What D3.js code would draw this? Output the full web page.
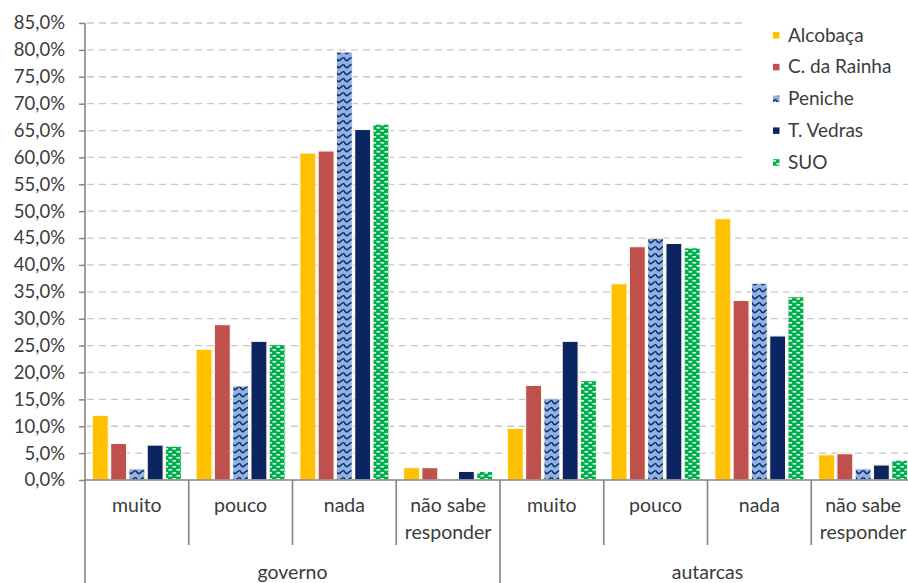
<!DOCTYPE html>
<html>
<head>
<meta charset="utf-8">
<script src="https://cdn.jsdelivr.net/npm/d3@7"></script>
<style>
  html, body { margin: 0; padding: 0; background: #ffffff; }
  svg { display: block; }
  text { font-family: Lato, "Open Sans", sans-serif; fill: #3c3c3c; }
</style>
</head>
<body>
<svg id="chart" width="908" height="583"></svg>
<script>
// Survey answers, in percent, for each municipality and the whole region (SUO)
const groups = ["governo", "autarcas"];
const answers = ["muito", "pouco", "nada", "não sabe responder"];
const seriesNames = ["Alcobaça", "C. da Rainha", "Peniche", "T. Vedras", "SUO"];

// order: governo (muito, pouco, nada, não sabe), autarcas (muito, pouco, nada, não sabe)
const alcobaca = [12.0, 24.3, 60.8, 2.3, 9.6, 36.5, 48.6, 4.7];
const rainha   = [6.8, 28.9, 61.2, 2.3, 17.6, 43.4, 33.4, 4.9];
const peniche  = [2.1, 17.5, 79.6, 0.0, 15.2, 45.0, 36.6, 2.1];
const vedras   = [6.5, 25.8, 65.2, 1.6, 25.8, 44.0, 26.8, 2.8];
const suo      = [6.3, 25.2, 66.2, 1.6, 18.5, 43.2, 34.1, 3.7];

const yTicks = d3.range(0, 86, 5);

const seriesValues = [alcobaca, rainha, peniche, vedras, suo];
const categories = [];
groups.forEach(g => answers.forEach(a => categories.push({ group: g, answer: a, key: g + "|" + a })));

const svg = d3.select("#chart");
const W = 908, H = 583;
const plotLeft = 85, plotRight = 915, plotTop = 23, plotBottom = 480;

const x = d3.scaleBand().domain(categories.map(c => c.key)).range([plotLeft, plotRight]).padding(0);
const xs = d3.scaleBand().domain(seriesNames).range([0, x.bandwidth()]).paddingInner(0.125).paddingOuter(0.4);
const y = d3.scaleLinear().domain([0, 85]).range([plotBottom, plotTop]);

const locale = d3.formatLocale({ decimal: ",", thousands: ".", grouping: [3], currency: ["", "€"] });
const pct = locale.format(".1%");

// fills and patterns
const defs = svg.append("defs");
const wave = defs.append("pattern").attr("id", "pWave").attr("patternUnits", "userSpaceOnUse")
  .attr("width", 8).attr("height", 7);
wave.append("rect").attr("width", 8).attr("height", 7).attr("fill", "#8fb2e2");
wave.append("path").attr("d", "M0,1.5 Q2,6 4,4 Q6,2 8,1.5").attr("fill", "none")
  .attr("stroke", "#0b2a6b").attr("stroke-width", 1.6);

const dots = defs.append("pattern").attr("id", "pDash").attr("patternUnits", "userSpaceOnUse")
  .attr("width", 8).attr("height", 6);
dots.append("rect").attr("width", 8).attr("height", 6).attr("fill", "#00b050");
dots.append("rect").attr("x", 0.5).attr("y", 1).attr("width", 3.5).attr("height", 1.6).attr("fill", "#e2f8ea");
dots.append("rect").attr("x", 4.5).attr("y", 4).attr("width", 3.5).attr("height", 1.6).attr("fill", "#e2f8ea");

const fills = ["#ffc000", "#c0504d", "url(#pWave)", "#0b2462", "url(#pDash)"];

// dashed gridlines
svg.append("g").selectAll("line").data(yTicks.filter(t => t > 0)).join("line")
  .attr("x1", plotLeft + 2).attr("x2", W)
  .attr("y1", d => y(d)).attr("y2", d => y(d))
  .attr("stroke", "#c8c8c8").attr("stroke-width", 1.3).attr("stroke-dasharray", "7,5");

// bars
const barG = svg.append("g");
seriesNames.forEach((s, si) => {
  barG.append("g").selectAll("rect")
    .data(categories.map((c, ci) => ({ key: c.key, v: seriesValues[si][ci] })).filter(d => d.v > 0))
    .join("rect")
    .attr("x", d => x(d.key) + xs(s))
    .attr("width", xs.bandwidth())
    .attr("y", d => y(d.v))
    .attr("height", d => y(0) - y(d.v))
    .attr("fill", fills[si])
    .attr("stroke", "#fbf8ea").attr("stroke-width", 1.2);
});

// y axis
const yAxis = svg.append("g").attr("transform", `translate(${plotLeft},0)`)
  .call(d3.axisLeft(y).tickValues(yTicks).tickSize(6).tickPadding(14).tickFormat(d => pct(d / 100)));
yAxis.select(".domain").remove();
yAxis.selectAll(".tick line").attr("stroke", "#858585").attr("stroke-width", 1.5);
yAxis.selectAll(".tick text").style("font-size", "18.5px").attr("fill", "#3c3c3c");

const axisColor = "#858585";
svg.append("line").attr("x1", plotLeft).attr("x2", plotLeft).attr("y1", plotTop).attr("y2", H)
  .attr("stroke", axisColor).attr("stroke-width", 1.6);
svg.append("line").attr("x1", plotLeft).attr("x2", plotRight).attr("y1", plotBottom).attr("y2", plotBottom)
  .attr("stroke", axisColor).attr("stroke-width", 1.6);

// category dividers
const minorEdges = categories.filter(c => answers.indexOf(c.answer) > 0).map(c => x(c.key));
svg.append("g").selectAll("line").data(minorEdges).join("line")
  .attr("x1", d => d).attr("x2", d => d).attr("y1", plotBottom).attr("y2", 545)
  .attr("stroke", axisColor).attr("stroke-width", 1.6);
const majorEdges = groups.slice(1).map(g => x(g + "|" + answers[0])).concat([plotRight]);
svg.append("g").selectAll("line").data(majorEdges).join("line")
  .attr("x1", d => d).attr("x2", d => d).attr("y1", plotBottom).attr("y2", H)
  .attr("stroke", axisColor).attr("stroke-width", 1.6);

// category labels
const catLabels = svg.append("g").style("font-size", "19.5px").attr("text-anchor", "middle");
categories.forEach(c => {
  const cx = x(c.key) + x.bandwidth() / 2;
  const words = c.answer === "não sabe responder" ? ["não sabe", "responder"] : [c.answer];
  words.forEach((w, i) => {
    catLabels.append("text").attr("x", cx).attr("y", 512 + i * 27).text(w);
  });
});
const groupLabels = svg.append("g").style("font-size", "19.5px").attr("text-anchor", "middle");
groups.forEach(g => {
  const x0 = x(g + "|" + answers[0]);
  const x1 = x(g + "|" + answers[answers.length - 1]) + x.bandwidth();
  groupLabels.append("text").attr("x", (x0 + x1) / 2).attr("y", 579).text(g);
});

// legend
const legend = svg.append("g");
legend.append("rect").attr("x", 746).attr("y", 17).attr("width", W - 746).attr("height", 161).attr("fill", "#ffffff");
seriesNames.forEach((s, i) => {
  const cy = 35 + i * 31.8;
  legend.append("rect").attr("x", 773).attr("y", cy - 3).attr("width", 6.5).attr("height", 6.5).attr("fill", fills[i]);
  legend.append("text").attr("x", 788).attr("y", cy).attr("dy", "0.35em")
    .style("font-size", "19px").text(s);
});
</script>
</body>
</html>
